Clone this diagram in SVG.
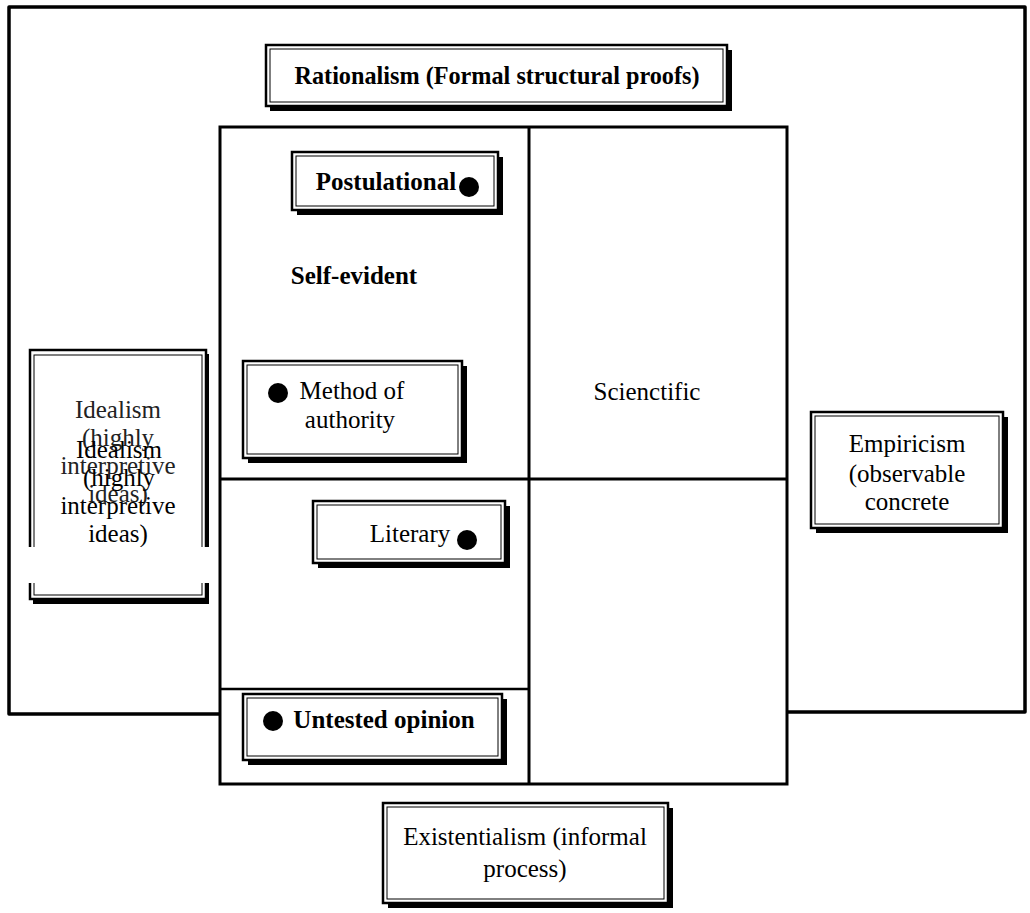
<svg xmlns="http://www.w3.org/2000/svg" width="1030" height="913" viewBox="0 0 1030 913">
<style>
.frame{fill:none;stroke:#000;stroke-width:3.5;stroke-linejoin:round}
.grid{fill:none;stroke:#000;stroke-width:3}
.shadow{fill:#000}
.outer{fill:#fff;stroke:#000;stroke-width:2.5}
.inner{fill:none;stroke:#000;stroke-width:1}
.t{font-family:"Liberation Serif","Times New Roman",serif;font-size:25px;fill:#000;text-anchor:middle}
.b{font-weight:bold}
.ghost{fill:#222}
.dot{fill:#000}
</style>
<rect x="0" y="0" width="1030" height="913" fill="#fff"/>
<g id="connectors">
  <path class="frame" d="M220,714 L9,714 L9,7 L1025,7 L1025,712 L787,712"/>
  <rect x="220" y="127" width="567" height="657" fill="#fff"/>
  <path class="grid" d="M220,127 L787,127 L787,784 L220,784 Z"/>
  <path class="grid" d="M529,127 L529,784"/>
  <path class="grid" d="M220,479 L787,479"/>
  <path class="grid" d="M220,689 L529,689" style="stroke-width:2.5"/>
</g>
<g id="n-rationalism">
  <rect class="shadow" x="270" y="50" width="462" height="61"/>
  <rect class="outer" x="266" y="45" width="461" height="61"/>
  <rect class="inner" x="270" y="49" width="453" height="53"/>
  <text class="t b" x="497" y="84" font-size="27" textLength="405" lengthAdjust="spacingAndGlyphs">Rationalism (Formal structural proofs)</text>
</g>
<g id="n-postulational">
  <rect class="shadow" x="297" y="157" width="206" height="58"/>
  <rect class="outer" x="292" y="152" width="206" height="58"/>
  <rect class="inner" x="296" y="156" width="198" height="50"/>
  <text class="t b" x="386" y="190" font-size="24">Postulational</text>
  <circle class="dot" cx="469" cy="187" r="10"/>
</g>
<g id="n-selfevident">
  <text class="t b" x="354" y="284" font-size="26">Self-evident</text>
</g>
<g id="n-method">
  <rect class="shadow" x="248" y="366" width="219" height="97"/>
  <rect class="outer" x="243" y="361" width="219" height="97"/>
  <rect class="inner" x="247" y="365" width="211" height="89"/>
  <text class="t" x="352" y="399" font-size="25">Method of</text>
  <text class="t" x="350" y="428" font-size="25">authority</text>
  <circle class="dot" cx="278" cy="393" r="10"/>
</g>
<g id="n-scientific">
  <text class="t" x="647" y="400" font-size="25">Scienctific</text>
</g>
<g id="n-idealism">
  <rect class="shadow" x="33" y="354" width="176" height="250"/>
  <rect class="outer" x="30" y="350" width="176" height="249"/>
  <rect class="inner" x="34" y="355" width="168" height="240"/>
  <g class="t ghost" font-size="26">
    <text x="118" y="418">Idealism</text>
    <text x="118" y="446">(highly</text>
    <text x="118" y="474">interpretive</text>
    <text x="118" y="502">ideas)</text>
  </g>
  <g class="t" font-size="26">
    <text x="119" y="458">Idealism</text>
    <text x="119" y="486">(highly</text>
    <text x="118" y="514">interpretive</text>
    <text x="118" y="542">ideas)</text>
  </g>
  <rect x="26" y="547" width="184" height="36" fill="#fff"/>
</g>
<g id="n-empiricism">
  <rect class="shadow" x="816" y="417" width="192" height="116"/>
  <rect class="outer" x="811" y="412" width="192" height="116"/>
  <rect class="inner" x="815" y="416" width="184" height="108"/>
  <text class="t" x="907" y="452" font-size="25">Empiricism</text>
  <text class="t" x="907" y="482" font-size="25">(observable</text>
  <text class="t" x="907" y="510" font-size="25">concrete</text>
</g>
<g id="n-literary">
  <rect class="shadow" x="318" y="506" width="192" height="62"/>
  <rect class="outer" x="313" y="501" width="192" height="62"/>
  <rect class="inner" x="317" y="505" width="184" height="54"/>
  <text class="t" x="410" y="542" font-size="26">Literary</text>
  <circle class="dot" cx="467" cy="540" r="10"/>
</g>
<g id="n-untested">
  <rect class="shadow" x="248" y="699" width="259" height="66"/>
  <rect class="outer" x="243" y="694" width="259" height="66"/>
  <rect class="inner" x="247" y="698" width="251" height="58"/>
  <text class="t b" x="384" y="728" font-size="25">Untested opinion</text>
  <circle class="dot" cx="273" cy="721" r="10"/>
</g>
<g id="n-existentialism">
  <rect class="shadow" x="388" y="808" width="285" height="100"/>
  <rect class="outer" x="383" y="803" width="285" height="100"/>
  <rect class="inner" x="387" y="807" width="277" height="92"/>
  <text class="t" x="525" y="845" font-size="26">Existentialism (informal</text>
  <text class="t" x="525" y="877" font-size="26">process)</text>
</g>
</svg>
